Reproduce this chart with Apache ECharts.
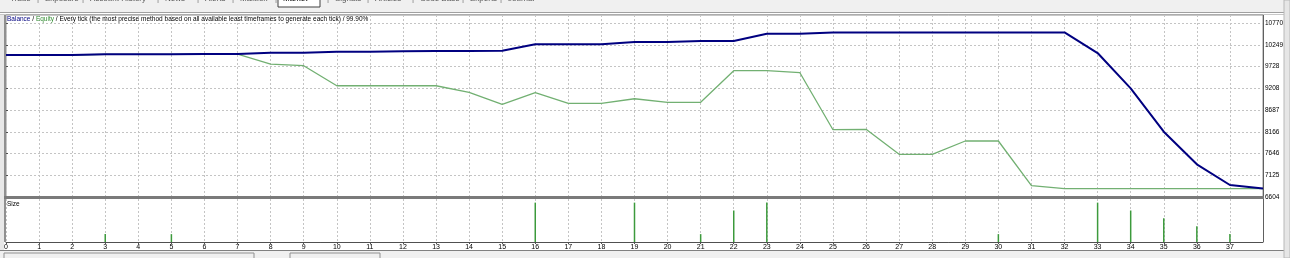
<!DOCTYPE html>
<html>
<head>
<meta charset="utf-8">
<script src="https://cdn.jsdelivr.net/npm/echarts@6/dist/echarts.min.js"></script>
<style>
html, body { margin: 0; padding: 0; background: #f0f0f0; }
#main { width: 1290px; height: 258px; }
</style>
</head>
<body>
<div id="main"></div>
<script>
// trade number on x, account money on y
var balance = [10004, 10004, 10004, 10020, 10020, 10020, 10028, 10028, 10059, 10059,
    10083, 10083, 10092, 10100, 10100, 10106, 10260, 10260, 10260, 10315,
    10315, 10339, 10339, 10513, 10513, 10545, 10545, 10545, 10545, 10545,
    10545, 10545, 10545, 10051, 9206, 8167, 7387, 6891, 6805];
var equity = [10004, 10004, 10004, 10020, 10020, 10020, 10028, 10028, 9788, 9748,
    9268, 9268, 9268, 9268, 9110, 8823, 9101, 8847, 8847, 8957,
    8871, 8871, 9628, 9628, 9580, 8215, 8224, 7626, 7626, 7945,
    7945, 6875, 6803, 6805, 6805, 6805, 6805, 6805, 6805];
var sizeTrade = [3, 5, 16, 19, 21, 22, 23, 30, 33, 34, 35, 36, 37];
var sizeLots = [1, 1, 5, 5, 1, 4, 5, 1, 5, 4, 3, 2, 1];
var yTicks = [6604, 7125, 7646, 8166, 8687, 9208, 9728, 10249, 10770];
var tabNames = ['Trade', 'Exposure', 'Account History', 'News', 'Alerts', 'Mailbox',
    'Market', 'Signals', 'Articles', 'Code Base', 'Experts', 'Journal'];

var chart = echarts.init(document.getElementById('main'));
var font = 'Liberation Sans';

function pairs(vals) {
    return vals.map(function (v, i) { return [i, v]; });
}

var gridDash = { color: '#c4c4c4', type: [2, 2], width: 1 };

// window chrome around the tester graph
var tabX = [10, 45, 90, 165, 205, 240, 283, 335, 375, 420, 470, 508];
var graphics = [
    { type: 'rect', shape: { x: 0, y: 13, width: 1284, height: 237 }, style: { fill: '#fff' }, z: -10 },
    { type: 'rect', shape: { x: 0, y: 12, width: 1284, height: 1 }, style: { fill: '#a0a0a0' }, z: -5 },
    { type: 'rect', shape: { x: 0, y: 14, width: 1284, height: 1 }, style: { fill: '#c8c8c8' }, z: -5 },
    { type: 'rect', shape: { x: 0, y: 15, width: 4, height: 235 }, style: { fill: '#e8e8e8' }, z: -5 },
    { type: 'rect', shape: { x: 4, y: 15, width: 2, height: 227 }, style: { fill: '#909090' }, z: 20 },
    { type: 'rect', shape: { x: 1263, y: 15, width: 1, height: 227 }, style: { fill: '#606060' }, z: 20 },
    { type: 'rect', shape: { x: 4, y: 196, width: 1260, height: 3 }, style: { fill: '#7a7a7a' }, z: 20 },
    { type: 'rect', shape: { x: 0, y: 250, width: 1284, height: 1 }, style: { fill: '#808080' }, z: 5 },
    { type: 'rect', shape: { x: 0, y: 251, width: 1290, height: 7 }, style: { fill: '#f0f0f0' }, z: 5 },
    { type: 'rect', shape: { x: 1284, y: 0, width: 6, height: 258 }, style: { fill: '#e6e6e6', stroke: '#b8b8b8', lineWidth: 1 }, z: 30 },
    { type: 'rect', shape: { x: 278, y: -2, width: 42, height: 9 }, style: { fill: '#fff', stroke: '#404040', lineWidth: 1 }, z: 4 },
    { type: 'rect', shape: { x: 4, y: 253, width: 250, height: 8 }, style: { fill: 'none', stroke: '#909090', lineWidth: 1 }, z: 6 },
    { type: 'rect', shape: { x: 290, y: 253, width: 90, height: 8 }, style: { fill: 'none', stroke: '#909090', lineWidth: 1 }, z: 6 },
    {
        type: 'text', left: 7, top: 16, z: 25,
        style: {
            text: '{b|Balance} / {e|Equity} / Every tick (the most precise method based on all available least timeframes to generate each tick) / 99.90%',
            font: '6.5px ' + font, fill: '#000',
            rich: { b: { fill: '#000080', fontSize: 6.5, fontFamily: font }, e: { fill: '#2e8b2e', fontSize: 6.5, fontFamily: font } }
        }
    },
    { type: 'text', left: 7, top: 201, z: 25, style: { text: 'Size', font: '6.5px ' + font, fill: '#000' } }
];
tabNames.forEach(function (name, i) {
    graphics.push({
        type: 'text', x: tabX[i], y: -5, z: 6,
        style: { text: name, font: '8px ' + font, fill: i === 6 ? '#000' : '#555' }
    });
    if (i < tabNames.length - 1) {
        graphics.push({
            type: 'text', x: tabX[i + 1] - 8, y: -5, z: 6,
            style: { text: '|', font: '8px ' + font, fill: '#777' }
        });
    }
});

var option = {
    backgroundColor: '#f0f0f0',
    animation: false,
    textStyle: { fontFamily: font },
    graphic: graphics,
    grid: [
        { left: 6, right: 27, top: 15, height: 182, show: true, borderColor: '#909090', borderWidth: 1, backgroundColor: 'transparent' },
        { left: 6, right: 27, top: 199, height: 43, show: false }
    ],
    xAxis: [
        {
            type: 'value', gridIndex: 0, min: 0, max: 38, interval: 1,
            axisLine: { show: false }, axisTick: { show: false }, axisLabel: { show: false },
            splitLine: { show: true, lineStyle: gridDash }
        },
        {
            type: 'value', gridIndex: 1, min: 0, max: 38, interval: 1,
            axisLine: { show: true, onZero: false, lineStyle: { color: '#505050', width: 1 } },
            axisTick: { show: true, length: 2, lineStyle: { color: '#505050' } },
            axisLabel: { show: true, fontSize: 7, color: '#000', margin: 2, showMaxLabel: false, fontFamily: font },
            splitLine: { show: true, lineStyle: gridDash }
        }
    ],
    yAxis: [
        {
            type: 'value', gridIndex: 0, position: 'right', min: 6604, max: 10962,
            axisLine: { show: false },
            axisTick: { show: true, length: 2, customValues: yTicks, lineStyle: { color: '#505050' } },
            axisLabel: {
                show: true, fontSize: 6.5, color: '#000', margin: 2, customValues: yTicks, fontFamily: font,
                formatter: function (v) { return String(Math.round(v)); }
            },
            splitLine: { show: true, lineStyle: gridDash }
        },
        {
            type: 'value', gridIndex: 1, position: 'right', min: 0, max: 5.46,
            axisLine: { show: false }, axisTick: { show: false }, axisLabel: { show: false },
            splitLine: { show: false }
        }
    ],
    series: [
        {
            name: 'Equity', type: 'line', xAxisIndex: 0, yAxisIndex: 0,
            data: pairs(equity), symbol: 'none', z: 3,
            lineStyle: { color: '#72b072', width: 1.3 }
        },
        {
            name: 'Balance', type: 'line', xAxisIndex: 0, yAxisIndex: 0,
            data: pairs(balance), symbol: 'none', z: 4,
            lineStyle: { color: '#000080', width: 2 }
        },
        {
            name: 'Size', type: 'bar', xAxisIndex: 1, yAxisIndex: 1,
            data: sizeTrade.map(function (t, i) { return [t, sizeLots[i]]; }),
            barWidth: 1.5, itemStyle: { color: '#3c9a3c' }
        }
    ]
};

chart.setOption(option);
</script>
</body>
</html>
